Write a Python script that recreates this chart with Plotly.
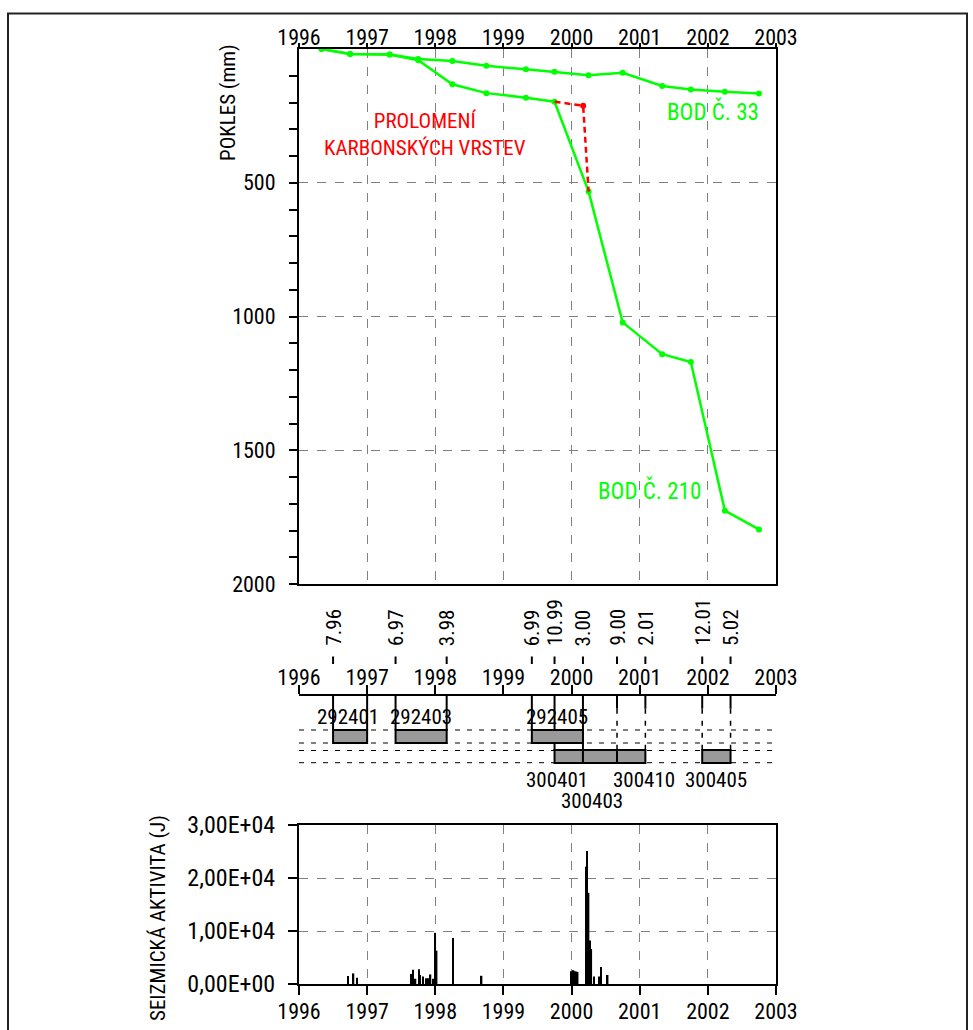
import plotly.graph_objects as go

W, H = 973, 1030
FONT = "Roboto Condensed, Liberation Sans Narrow, Arial Narrow, sans-serif"

# ---------------- data ----------------
years = [1996, 1997, 1998, 1999, 2000, 2001, 2002, 2003]

# subsidence (POKLES, mm)
bod33_t = [1996.33, 1996.75, 1997.33, 1997.75, 1998.25, 1998.75, 1999.33,
           1999.75, 2000.25, 2000.75, 2001.33, 2001.75, 2002.25, 2002.75]
bod33_mm = [0, 19, 21, 37, 45, 63, 76, 85, 98, 89, 138, 151, 160, 166]

bod210_t = [1996.33, 1996.75, 1997.33, 1997.75, 1998.25, 1998.75, 1999.33,
            1999.75, 2000.25, 2000.75, 2001.33, 2001.75, 2002.25, 2002.75]
bod210_mm = [0, 19, 21, 42, 132, 165, 182, 197, 533, 1022, 1141, 1170, 1726, 1796]

# break-through of carboniferous layers (red dashed)
prolom_t = [1999.75, 2000.17, 2000.25]
prolom_mm = [197, 212, 533]

# mining panels (timeline)
panel_name = ["292401", "292403", "292405", "300401", "300403", "300410", "300405"]
panel_start = [1996.5, 1997.417, 1999.417, 1999.75, 2000.167, 2000.667, 2001.917]
panel_end = [1997.0, 1998.167, 2000.167, 2000.167, 2000.667, 2001.083, 2002.333]
panel_row = [1, 1, 1, 2, 2, 2, 2]

date_lbl = ["7.96", "6.97", "3.98", "6.99", "10.99", "3.00", "9.00", "2.01", "12.01", "5.02"]
date_t = [1996.5, 1997.417, 1998.167, 1999.417, 1999.75, 2000.167, 2000.667,
          2001.083, 2001.917, 2002.333]

# seismic activity (J)
seis_t = [1996.72, 1996.80, 1996.85, 1997.64, 1997.67, 1997.71, 1997.76, 1997.78,
          1997.82, 1997.86, 1997.89, 1997.93, 1997.97, 1998.00, 1998.02, 1998.26,
          1998.68, 2000.00, 2000.03, 2000.06, 2000.09, 2000.21, 2000.23, 2000.25,
          2000.27, 2000.29, 2000.33, 2000.40, 2000.43, 2000.53]
seis_j = [1500, 2000, 1200, 1900, 2700, 1000, 2800, 1700, 1400, 1100, 1100, 1800,
          1000, 9650, 6300, 8700, 1550, 2400, 2600, 2400, 2300, 22100, 25100, 17200,
          8200, 6600, 1400, 1400, 3200, 1700]
seis_ticks = [0, 10000, 20000, 30000]
seis_ticktext = ["0,00E+00", "1,00E+04", "2,00E+04", "3,00E+04"]

# ---------------- layout helpers ----------------
def py(p):
    return 1 - p / H


def pxx(p):
    return p / W


X0, X1 = 299, 776
XD = [pxx(X0), pxx(X1)]
GREEN = "#00ff00"
RED = "#ff0000"
GRID = "#808080"

fig = go.Figure()

# ---- top chart
fig.add_trace(go.Scatter(x=bod33_t, y=bod33_mm, mode="lines+markers",
                         line=dict(color=GREEN, width=2.5), marker=dict(size=6, color=GREEN),
                         xaxis="x", yaxis="y", showlegend=False))
fig.add_trace(go.Scatter(x=bod210_t, y=bod210_mm, mode="lines+markers",
                         line=dict(color=GREEN, width=2.5), marker=dict(size=6, color=GREEN),
                         xaxis="x", yaxis="y", showlegend=False))
fig.add_trace(go.Scatter(x=prolom_t, y=prolom_mm, mode="lines",
                         line=dict(color=RED, width=2.5, dash="6px,4px"),
                         xaxis="x", yaxis="y", showlegend=False))
fig.add_trace(go.Scatter(x=prolom_t[1:2], y=prolom_mm[1:2], mode="markers",
                         marker=dict(size=6, color=RED),
                         xaxis="x", yaxis="y", showlegend=False))

# ---- timeline
T_AXIS, R1_TOP, R1_BOT, R2_TOP, R2_BOT, T_BOT = 695.7, 730, 743, 750.5, 762.7, 810
row_c = [(R1_TOP + R1_BOT) / 2, (R2_TOP + R2_BOT) / 2]
unit = row_c[1] - row_c[0]
y3_top = 1 - (row_c[0] - T_AXIS) / unit
y3_bot = y3_top + (T_BOT - T_AXIS) / unit
bar_w = (R1_BOT - R1_TOP) / unit

fig.add_trace(go.Bar(orientation="h", y=panel_row,
                     x=[e - s for s, e in zip(panel_start, panel_end)], base=panel_start,
                     width=bar_w, marker=dict(color="#9a9a9a", line=dict(color="black", width=2)),
                     xaxis="x3", yaxis="y3", showlegend=False, hoverinfo="skip"))

# ---- seismic chart
fig.add_trace(go.Bar(x=seis_t, y=seis_j, width=0.022,
                     marker=dict(color="black", line=dict(width=0)),
                     xaxis="x2", yaxis="y2", showlegend=False))

common_x = dict(range=[1996, 2003], tickmode="array", tickvals=years,
                ticktext=[str(y) for y in years], ticks="outside", tickcolor="black",
                tickwidth=2, showline=True, linecolor="black", linewidth=2,
                zeroline=False, automargin=False,
                tickfont=dict(family=FONT, size=22, color="black"))

fig.update_layout(
    width=W, height=H,
    margin=dict(l=0, r=0, t=0, b=0),
    paper_bgcolor="white", plot_bgcolor="white",
    barmode="overlay",
    font=dict(family=FONT, color="black"),
    xaxis=dict(domain=XD, anchor="y", side="top", ticklen=4, mirror=True,
               ticklabelstandoff=-11,
               showgrid=True, gridcolor=GRID, griddash="dash", gridwidth=1, **common_x),
    yaxis=dict(domain=[py(584), py(49)], anchor="x", range=[2000, 0],
               tickmode="array", tickvals=[500, 1000, 1500, 2000],
               ticks="outside", ticklen=8, tickwidth=2, tickcolor="black",
               minor=dict(tickmode="array",
                          tickvals=[v for v in range(100, 2000, 100) if v % 500],
                          ticks="outside", ticklen=8, tickwidth=2, tickcolor="black",
                          showgrid=False),
               showgrid=True, gridcolor=GRID, griddash="dash", gridwidth=1,
               showline=True, linecolor="black", linewidth=2, mirror=True,
               zeroline=False, automargin=False, ticklabelstandoff=9,
               tickfont=dict(family=FONT, size=22, color="black")),
    xaxis2=dict(domain=XD, anchor="y2", side="bottom", ticklen=9, mirror=True,
                ticklabelstandoff=-2,
                showgrid=True, gridcolor=GRID, griddash="dash", gridwidth=1, **common_x),
    yaxis2=dict(domain=[py(984), py(825)], anchor="x2", range=[0, 30000],
                tickmode="array", tickvals=seis_ticks, ticktext=seis_ticktext,
                ticks="outside", ticklen=9, tickwidth=2, tickcolor="black",
                showgrid=True, gridcolor=GRID, griddash="dash", gridwidth=1,
                showline=True, linecolor="black", linewidth=2, mirror=True,
                zeroline=False, automargin=False, ticklabelstandoff=8,
                tickfont=dict(family=FONT, size=24, color="black")),
    xaxis3=dict(domain=XD, anchor="y3", side="top", ticklen=9, mirror=False,
                ticklabelstandoff=-9, showgrid=False, **common_x),
    yaxis3=dict(domain=[py(T_BOT), py(T_AXIS)], anchor="x3", range=[y3_bot, y3_top],
                visible=False, showgrid=False, zeroline=False),
)

shapes = []
# outer frame
shapes.append(dict(type="rect", xref="paper", yref="paper", x0=pxx(8), x1=pxx(967),
                   y0=py(1040), y1=py(13.5), line=dict(color="#222", width=2)))
# dashed row guides
for yy in [R1_TOP, R1_BOT, R2_TOP, R2_BOT]:
    shapes.append(dict(type="line", xref="paper", yref="paper", x0=XD[0], x1=XD[1],
                       y0=py(yy), y1=py(yy), layer="below",
                       line=dict(color="black", width=1, dash="5px,7px")))
# connecting lines from timeline axis to panels
r1_b = set(t for t, r in zip(panel_start + panel_end, panel_row + panel_row) if r == 1)
r2_b = set(t for t, r in zip(panel_start + panel_end, panel_row + panel_row) if r == 2)
r1_spans = [(s, e) for s, e, r in zip(panel_start, panel_end, panel_row) if r == 1]
for t in sorted(r1_b | r2_b):
    covered = any(s < t < e for s, e in r1_spans)
    if t in r2_b and (t in r1_b or covered):
        segs = [(T_AXIS, R2_TOP, "solid")]
    elif t in r1_b:
        segs = [(T_AXIS, R1_TOP, "solid")]
    else:
        segs = [(T_AXIS, T_AXIS + 13, "solid"), (T_AXIS + 13, R2_TOP, "5px,7px")]
    for a, b, d in segs:
        shapes.append(dict(type="line", xref="x3", yref="paper", x0=t, x1=t,
                           y0=py(a), y1=py(b), layer="below",
                           line=dict(color="black", width=2 if d == "solid" else 1.5, dash=d)))
# short date ticks above the axis labels
for t in date_t:
    shapes.append(dict(type="line", xref="x3", yref="paper", x0=t, x1=t,
                       y0=py(656.5), y1=py(664), line=dict(color="black", width=2)))
fig.update_layout(shapes=shapes)

ann = []
# date labels (rotated)
for t, s in zip(date_t, date_lbl):
    ann.append(dict(x=t, xref="x3", y=py(648), yref="paper", text=s, textangle=-90,
                    xanchor="center", yanchor="bottom", showarrow=False,
                    font=dict(family=FONT, size=21, color="black")))
# panel labels
shift = {"292401": -2, "300401": -12, "300403": -8, "300410": 13}
for n, s, e, r in zip(panel_name, panel_start, panel_end, panel_row):
    if r == 1:
        yy = 716.5
    elif n == "300403":
        yy = 800.5
    else:
        yy = 779.5
    ann.append(dict(x=(s + e) / 2, xref="x3", y=py(yy), yref="paper", text=n,
                    xshift=shift.get(n, 0), showarrow=False, xanchor="center",
                    yanchor="middle", font=dict(family=FONT, size=21, color="black")))
# top chart texts
ann.append(dict(x=2002.07, xref="x", y=232, yref="y", text="BOD Č. 33", showarrow=False,
                font=dict(family=FONT, size=23, color=GREEN)))
ann.append(dict(x=2001.15, xref="x", y=1649, yref="y", text="BOD Č. 210", showarrow=False,
                font=dict(family=FONT, size=23, color=GREEN)))
ann.append(dict(x=1997.85, xref="x", y=321, yref="y",
                text="PROLOMENÍ<br>KARBONSKÝCH VRSTEV", showarrow=False,
                font=dict(family=FONT, size=21, color=RED)))
# axis titles
ann.append(dict(x=pxx(228), xref="paper", y=py(103), yref="paper", text="POKLES (mm)",
                textangle=-90, showarrow=False, xanchor="center", yanchor="middle",
                font=dict(family=FONT, size=21, color="black")))
ann.append(dict(x=pxx(158), xref="paper", y=py(918), yref="paper",
                text="SEIZMICKÁ AKTIVITA (J)", textangle=-90, showarrow=False,
                xanchor="center", yanchor="middle",
                font=dict(family=FONT, size=21, color="black")))
fig.update_layout(annotations=ann)

fig.write_html("out.html")
